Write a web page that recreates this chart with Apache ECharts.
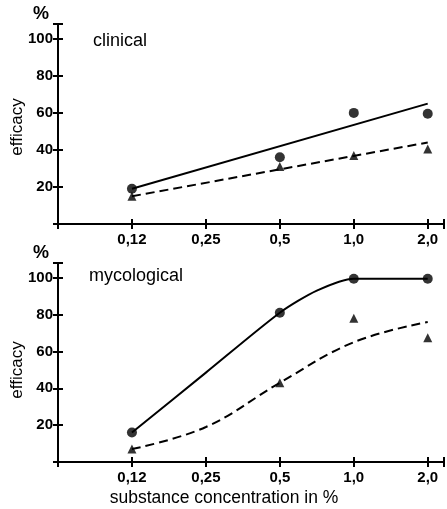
<!DOCTYPE html>
<html>
<head>
<meta charset="utf-8">
<script src="https://cdn.jsdelivr.net/npm/echarts@6/dist/echarts.min.js"></script>
<style>
  html, body { margin: 0; padding: 0; background: #fff; }
  #main { width: 447px; height: 509px; }
</style>
</head>
<body>
<div id="main"></div>
<script>
// concentration categories (equal spacing on the axis)
var categories = ['0,12', '0,25', '0,5', '1,0', '2,0'];
var yTicks = [20, 40, 60, 80, 100];

// clinical panel: measured points (0,25 not measured)
var clinicalCircle = [19, null, 36, 60, 59.5];
var clinicalTriangle = [15, null, 31, 37, 40.5];
// clinical fitted lines (at 0,12 and 2,0)
var clinicalFitSolid = [19, 65];
var clinicalFitDashed = [15, 44];

// mycological panel
var mycoCircle = [16, null, 81, 99.5, 99.5];
var mycoTriangle = [7, null, 43, 78, 67.5];
// curves (position on the category scale, value)
var mycoSolidPos = [0, 1, 2, 2.5, 3, 4];
var mycoSolidCurve = [16, 48.5, 81, 93, 99.5, 99.5];
var mycoDashedPos = [0, 1, 2, 3, 4];
var mycoDashedCurve = [7, 19, 43, 65, 76];

function pts(arr) {
  var out = [];
  arr.forEach(function (v, i) { if (v !== null) out.push([i, v]); });
  return out;
}
function zip(xs, ys) {
  return xs.map(function (x, i) { return [x, ys[i]]; });
}
function ends(arr) {
  return [[0, arr[0]], [categories.length - 1, arr[1]]];
}

var myChart = echarts.init(document.getElementById('main'));

var tickFont = { fontFamily: 'Liberation Sans', fontWeight: 'bold', fontSize: 15, color: '#000' };
var axisLine = { show: true, onZero: false, lineStyle: { color: '#000', width: 2 } };

function xAxes(grid) {
  var base = {
    type: 'value', gridIndex: grid, position: 'bottom', min: -1, max: 4.22, interval: 1,
    splitLine: { show: false }
  };
  return [
    Object.assign({}, base, {
      axisLine: axisLine,
      axisTick: { show: true, length: 5, lineStyle: { color: '#000', width: 2 } },
      axisLabel: Object.assign({ margin: 8, formatter: function (v) { return categories[v] || ''; } }, tickFont)
    }),
    Object.assign({}, base, {
      axisLine: { show: false, onZero: false },
      axisTick: { show: true, inside: true, length: 5, lineStyle: { color: '#000', width: 2 } },
      axisLabel: { show: false }
    })
  ];
}
function yAxes(grid) {
  var base = {
    type: 'value', gridIndex: grid, position: 'left', min: 0, max: 108, interval: 20,
    splitLine: { show: false }
  };
  return [
    Object.assign({}, base, {
      axisLine: axisLine,
      axisTick: { show: true, length: 5, lineStyle: { color: '#000', width: 2 } },
      axisLabel: Object.assign({ margin: 5, formatter: function (v) { return yTicks.indexOf(v) >= 0 ? v : ''; } }, tickFont)
    }),
    Object.assign({}, base, {
      axisLine: { show: false, onZero: false },
      axisTick: { show: true, inside: true, length: 5, lineStyle: { color: '#000', width: 2 } },
      axisLabel: { show: false }
    })
  ];
}

var black = '#000';
function scatter(axis, data, symbol, size) {
  return {
    type: 'scatter', xAxisIndex: axis, yAxisIndex: axis, data: pts(data),
    symbol: symbol, symbolSize: size, itemStyle: { color: black }, z: 5
  };
}
function line(axis, data, dashed, smooth) {
  return {
    type: 'line', xAxisIndex: axis, yAxisIndex: axis, data: data,
    symbol: 'none', smooth: smooth || false,
    lineStyle: { color: black, width: 2, type: dashed ? [9, 5] : 'solid' }
  };
}

var option = {
  animation: false,
  grid: [
    { left: 58, right: 0, top: 24, height: 200 },
    { left: 58, right: 0, top: 263, height: 199 }
  ],
  xAxis: xAxes(0).concat(xAxes(1)),
  yAxis: yAxes(0).concat(yAxes(1)),
  series: [
    line(0, ends(clinicalFitSolid), false),
    line(0, ends(clinicalFitDashed), true),
    scatter(0, clinicalCircle, 'circle', 10),
    scatter(0, clinicalTriangle, 'triangle', 9),
    line(2, zip(mycoSolidPos, mycoSolidCurve), false, 0.25),
    line(2, zip(mycoDashedPos, mycoDashedCurve), true, 0.4),
    scatter(2, mycoCircle, 'circle', 10),
    scatter(2, mycoTriangle, 'triangle', 9)
  ],
  graphic: [
    { type: 'text', left: 33, top: 5, style: { text: '%', font: 'bold 18px "Liberation Sans"', fill: black } },
    { type: 'text', left: 33, top: 244, style: { text: '%', font: 'bold 18px "Liberation Sans"', fill: black } },
    { type: 'text', left: 93, top: 32, style: { text: 'clinical', font: '18px "Liberation Sans"', fill: black } },
    { type: 'text', left: 89, top: 267, style: { text: 'mycological', font: '18px "Liberation Sans"', fill: black } },
    { type: 'text', x: 17, y: 127, rotation: Math.PI / 2,
      style: { text: 'efficacy', font: '17px "Liberation Sans"', fill: black, align: 'center', verticalAlign: 'middle' } },
    { type: 'text', x: 17, y: 370, rotation: Math.PI / 2,
      style: { text: 'efficacy', font: '17px "Liberation Sans"', fill: black, align: 'center', verticalAlign: 'middle' } },
    { type: 'text', x: 224, y: 498,
      style: { text: 'substance concentration in %', font: '17.5px "Liberation Sans"', fill: black, align: 'center', verticalAlign: 'middle' } }
  ]
};

myChart.setOption(option);
</script>
</body>
</html>
